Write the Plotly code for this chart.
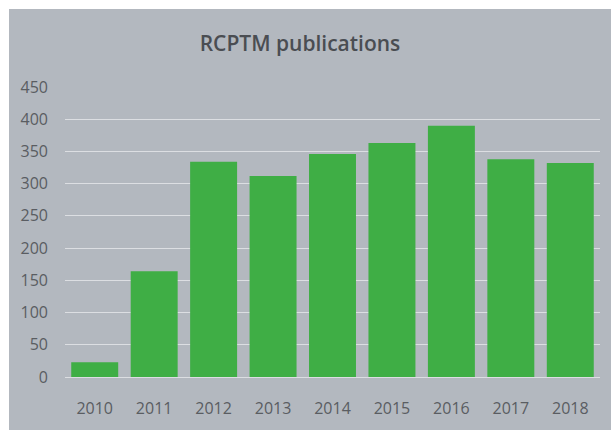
import plotly.graph_objects as go

years = ["2010", "2011", "2012", "2013", "2014", "2015", "2016", "2017", "2018"]
publications = [23, 164, 334, 312, 346, 363, 390, 338, 332]
y_ticks = [0, 50, 100, 150, 200, 250, 300, 350, 400, 450]

# The page body keeps its default 8px margin; the figure is sized so the page
# is exactly the 611x430 window (no overflow, no scaling).
W, H = 595, 414
ml, mr, mt, mb = 57, 3, 78, 39

fig = go.Figure(go.Bar(
    x=years, y=publications,
    marker=dict(color="#3fae45", line=dict(width=0)),
))

pw = W - ml - mr
ph = H - mt - mb

fig.update_layout(
    width=W, height=H,
    margin=dict(l=ml, r=mr, t=mt, b=mb),
    paper_bgcolor="rgba(0,0,0,0)",
    plot_bgcolor="rgba(0,0,0,0)",
    bargap=0.21,
    showlegend=False,
    title=dict(text="RCPTM publications", x=(292 - ml) / pw, xref="paper", xanchor="center",
               y=1 - 36 / H, yanchor="middle",
               font=dict(family="Open Sans", size=21, color="#4a4d52", weight=600)),
    font=dict(family="Open Sans", size=16, color="#5a5d62"),
    xaxis=dict(showgrid=False, showline=False, ticks="", ticklabelstandoff=20,
               tickfont=dict(size=16, color="#5a5d62")),
    yaxis=dict(range=[0, 451.5], tickvals=y_ticks, showgrid=True, gridcolor="#dcdee2",
               gridwidth=1.3, zeroline=True, zerolinecolor="#dcdee2", zerolinewidth=1.3,
               showline=False, ticks="", ticklabelstandoff=16,
               tickfont=dict(size=16, color="#5a5d62")),
)

# page background: white 9px strip at top and left, gray chart area elsewhere
bg_js = (
    "document.documentElement.style.background="
    "'linear-gradient(to bottom, #ffffff 9px, rgba(0,0,0,0) 9px),"
    " linear-gradient(to right, #ffffff 9px, #b3b8bf 9px)';"
)

fig.write_html("out.html", post_script=bg_js, config={"displayModeBar": False})
